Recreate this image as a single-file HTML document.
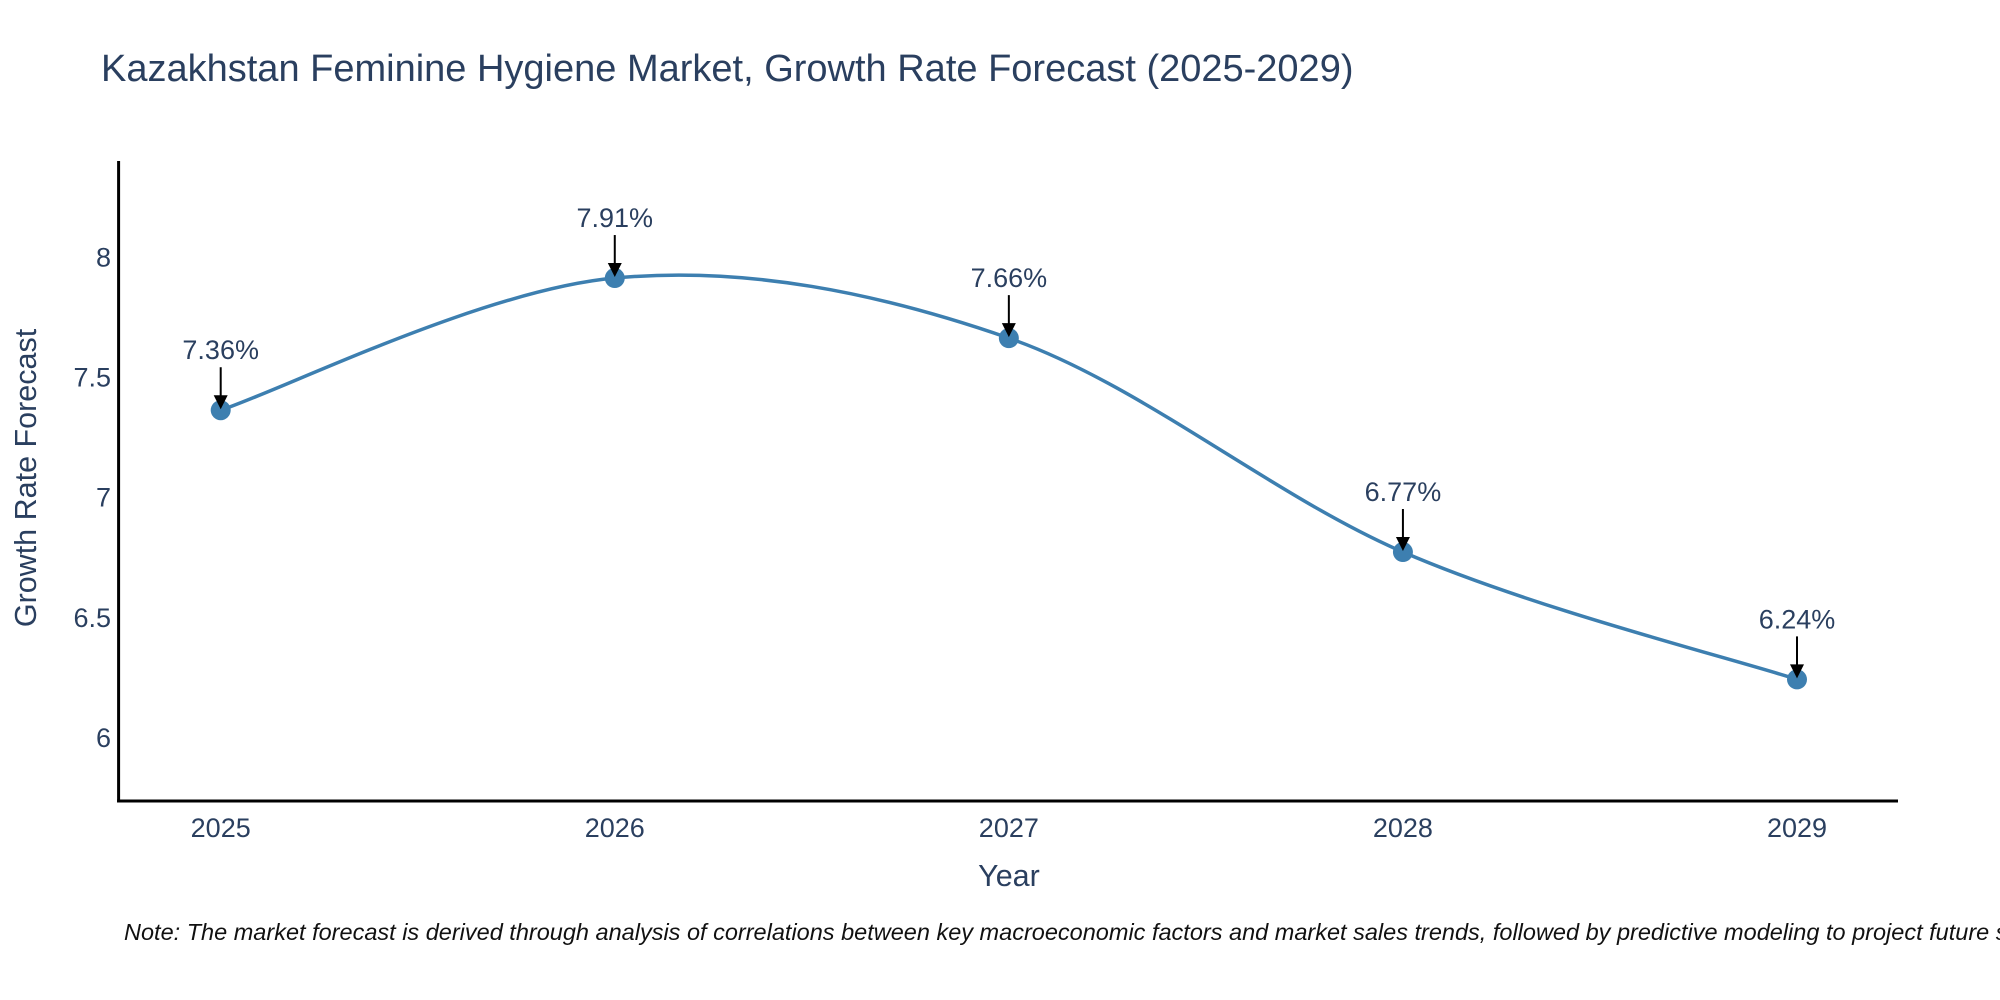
<!DOCTYPE html>
<html><head><meta charset="utf-8"><style>
html,body{margin:0;padding:0;background:#fff;}
svg{display:block;font-family:"Liberation Sans","DejaVu Sans",sans-serif;}
</style></head><body>
<svg id="chart" width="2000" height="1000" viewBox="0 0 2000 1000" xmlns="http://www.w3.org/2000/svg">
<text x="101" y="81" font-size="38" fill="#2a3f5f">Kazakhstan Feminine Hygiene Market, Growth Rate Forecast (2025-2029)</text>
<g id="plot"></g>
<text transform="translate(36,478) rotate(-90)" text-anchor="middle" font-size="30.5" fill="#2a3f5f">Growth Rate Forecast</text>
<text x="1009" y="886" text-anchor="middle" font-size="30.5" fill="#2a3f5f">Year</text>
<text x="124" y="940" font-size="23.5" font-style="italic" fill="#111">Note: The market forecast is derived through analysis of correlations between key macroeconomic factors and market sales trends, followed by predictive modeling to project future sales.</text>
</svg>
<script>
const categories = ["2025","2026","2027","2028","2029"];
const values = [7.36, 7.91, 7.66, 6.77, 6.24];
const yTicks = [6, 6.5, 7, 7.5, 8];
const yTickLabels = ["6","6.5","7","7.5","8"];

const NS="http://www.w3.org/2000/svg";
const g=document.getElementById('plot');
const L=118.6,R=1898,T=161,B=801;
const yMin=5.734,yMax=8.397;
const x0=220.7,x1=1797;
function xs(i){return x0+(x1-x0)*i/(categories.length-1);}
function ys(v){return B-(v-yMin)/(yMax-yMin)*(B-T);}
function el(t,a){const e=document.createElementNS(NS,t);for(const k in a)e.setAttribute(k,a[k]);g.appendChild(e);return e;}

yTicks.forEach((v,i)=>{
  const t=el('text',{x:111,y:ys(v)+10,'text-anchor':'end','font-size':'27',fill:'#2a3f5f'});
  
  
  t.textContent=yTickLabels[i];
});
categories.forEach((c,i)=>{
  const t=el('text',{x:xs(i),y:837,'text-anchor':'middle','font-size':'27',fill:'#2a3f5f'});
  
  
  t.textContent=c;
});
const ya=el('line',{x1:L,y1:T,x2:L,y2:B+1.5,stroke:'#000','stroke-width':3});


const xa=el('line',{x1:L-1.5,y1:B,x2:R,y2:B,stroke:'#000','stroke-width':3});



const pts=values.map((v,i)=>[xs(i),ys(v)]);
let d='M'+pts[0][0]+','+pts[0][1];
const s=1/6;
for(let i=0;i<pts.length-1;i++){
  const p0=pts[Math.max(i-1,0)],p1=pts[i],p2=pts[i+1],p3=pts[Math.min(i+2,pts.length-1)];
  const c1=[p1[0]+(p2[0]-p0[0])*s,p1[1]+(p2[1]-p0[1])*s];
  const c2=[p2[0]-(p3[0]-p1[0])*s,p2[1]-(p3[1]-p1[1])*s];
  d+=` C${c1[0]},${c1[1]} ${c2[0]},${c2[1]} ${p2[0]},${p2[1]}`;
}
const line=el('path',{d:d,fill:'none',stroke:'#3d7fb0','stroke-width':3.5});



pts.forEach((p,i)=>{
  const c=el('circle',{cx:p[0],cy:p[1],r:10,fill:'#3d7fb0'});
  
  
  const a=el('line',{x1:p[0],y1:p[1]-43,x2:p[0],y2:p[1]-12,stroke:'#000','stroke-width':2});
  
  
  const h=el('path',{d:`M${p[0]-7},${p[1]-15} L${p[0]+7},${p[1]-15} L${p[0]},${p[1]-1} Z`,fill:'#000'});
  
  
  const t=el('text',{x:p[0],y:p[1]-51,'text-anchor':'middle','font-size':'27',fill:'#2a3f5f'});
  
  
  t.textContent=values[i].toFixed(2)+'%';
});
</script>
</body></html>
